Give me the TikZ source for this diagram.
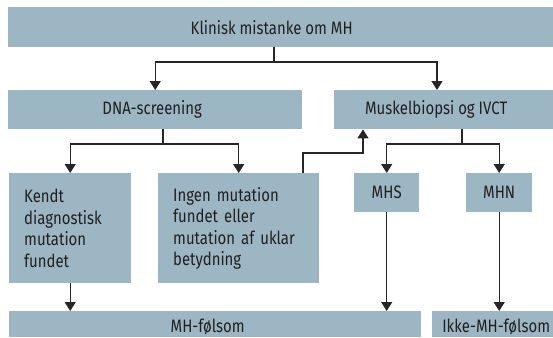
\documentclass[tikz,border=0pt]{standalone}
\usepackage{fontspec}
\setmainfont[FakeStretch=0.83]{Fira Sans}
\usepackage{tikz}
\usetikzlibrary{
arrows.meta,
calc,
}
\definecolor{boxblue}{RGB}{157,182,196}
\definecolor{textgrey}{RGB}{32,32,32}

\begin{document}
\begin{tikzpicture}[x=1pt, y=-1pt,
	box/.style={fill=boxblue, text=textgrey, anchor=north west, inner sep=0pt, font=\fontsize{18}{21.5}\selectfont},
	tall/.style={box, align=left, inner xsep=15pt},
	low/.style={box, minimum height=26pt, text height=16pt, text depth=0pt},
	line/.style={draw=black!85, line width=1.3pt},
	arr/.style={line, -{Triangle[width=11pt,length=9pt]}}]
				\useasboundingbox (0,0) rectangle (553,337);
				\clip (0,0) rectangle (553,337);
				\node[box, minimum width=552pt, minimum height=40pt] (top) at (8,7) {Klinisk mistanke om MH\hspace*{25pt}};
				\node[box, minimum width=294pt, minimum height=39pt] (dna) at (8,90) {DNA-screening\hspace*{6pt}};
				\node[box, minimum width=226pt, minimum height=39pt] (musk) at (334,90) {Muskelbiopsi og IVCT\hspace*{22pt}};
				\node[tall, text width=92pt, minimum height=110pt] (kendt) at (9,173) {Kendt\\diagnostisk\\mutation\\fundet};
				\node[tall, text width=131pt, minimum height=110pt] (ingen) at (158,173) {Ingen mutation\\fundet eller\\mutation af uklar\\betydning};
				\node[box, minimum width=65pt, minimum height=39pt] (mhs) at (354,173) {MHS};
				\node[box, minimum width=66pt, minimum height=39pt] (mhn) at (466,173) {MHN};
				\node[low, minimum width=412pt] (mhf) at (9,311) {MH-følsom\hspace*{15pt}};
				\node[low, minimum width=128pt] (ikke) at (432,311) {Ikke-MH-følsom};
				\coordinate (s1) at (274,62);
				\coordinate (a2) at (437,0);
				\coordinate (s2) at (163,144);
				\coordinate (r1) at (303,153);
				\coordinate (s3) at (363,153);
				\coordinate (s4) at (462,144);
				\draw[line] (top.south -| s1) -- (s1);
				\draw[arr] (s1) -| (dna.north);
				\draw[arr] (s1) -| (musk.north -| a2);
				\draw[line] (dna.south -| s2) -- (s2);
				\draw[arr] (s2) -| (kendt.north);
				\draw[arr] (s2) -| (ingen.north);
				\draw[arr] (ingen.north -| r1) -- (r1) -- (s3) -- (musk.south -| s3);
				\draw[line] (musk.south -| s4) -- (s4);
				\draw[arr] (s4) -| (mhs.north);
				\draw[arr] (s4) -| (mhn.north);
				\draw[arr] (kendt.south) -- (kendt.south |- mhf.north);
				\draw[arr] (mhs.south) -- (mhs.south |- mhf.north);
				\draw[arr] (mhn.south) -- (mhn.south |- ikke.north);
			\end{tikzpicture}
\end{document}
